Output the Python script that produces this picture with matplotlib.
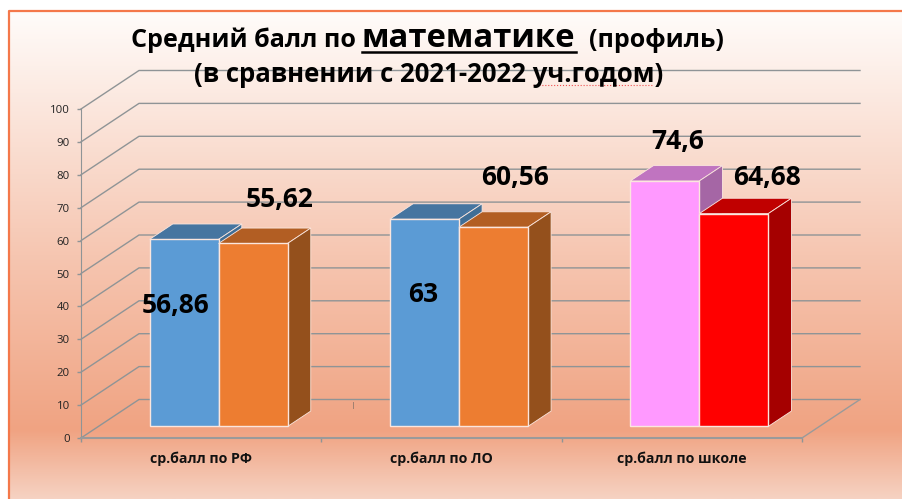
import matplotlib
matplotlib.use("Agg")
import matplotlib.pyplot as plt
import numpy as np
from matplotlib.colors import LinearSegmentedColormap

plt.rcParams["font.family"] = ["Open Sans", "DejaVu Sans"]

categories = ["ср.балл по РФ", "ср.балл по ЛО", "ср.балл по школе"]
first_values = [56.86, 63, 74.6]
second_values = [55.62, 60.56, 64.68]
first_labels = ["56,86", "63", "74,6"]
second_labels = ["55,62", "60,56", "64,68"]
y_ticks = [0, 10, 20, 30, 40, 50, 60, 70, 80, 90, 100]

# front, top, side colours per category
first_colors = [("#5B9BD5", "#4675A0", "#3F6E96"), ("#5B9BD5", "#4675A0", "#3F6E96"), ("#FF99FF", "#C074C0", "#A566A5")]
second_colors = [("#ED7D31", "#B25E23", "#94501C"), ("#ED7D31", "#B25E23", "#94501C"), ("#FF0000", "#C00000", "#A50000")]

W, H = 902, 499
X0, X1 = 81, 802      # front floor edge, px
Y0, Y100 = 438, 109   # value 0 and 100 on the front edge, px
BAR_W = 69 / ((X1 - X0) / 3)
# depth of the whole box in data units
DX = 58 / ((X1 - X0) / 3)
DY = 38.5 / ((Y0 - Y100) / 100)
BAR_FRONT = 0.30    # share of depth where the bars start
BAR_DEPTH = 0.40


def box(ax, x_left, val, color, z):
    front, top, side = color
    base = BAR_FRONT * DY
    x_right = x_left + BAR_W
    dx, dy = BAR_DEPTH * DX, BAR_DEPTH * DY
    ax.bar(x_left, val, BAR_W, bottom=base, align="edge", color=front,
           edgecolor="#FBE6DE", linewidth=1, zorder=z + 1)
    ax.fill([x_left, x_right, x_right + dx, x_left + dx],
            [base + val, base + val, base + val + dy, base + val + dy],
            facecolor=top, edgecolor="#FBE6DE", linewidth=0.6, clip_on=False, zorder=z)
    ax.fill([x_right, x_right + dx, x_right + dx, x_right],
            [base, base + dy, base + val + dy, base + val],
            facecolor=side, edgecolor="#FBE6DE", linewidth=0.6, clip_on=False, zorder=z)


def main():
    fig = plt.figure(figsize=(W / 100, H / 100), dpi=100, facecolor="white")

    # Background with gradient and orange frame
    bg = fig.add_axes([0, 0, 1, 1], zorder=0)
    bg.set_xlim(0, W)
    bg.set_ylim(H, 0)
    bg.axis("off")
    cmap = LinearSegmentedColormap.from_list(
        "bg", [(0, "#FFFCFA"), (0.5, "#F6C6B1"), (0.86, "#F0A382"), (1, "#F6D2C2")])
    grad = np.linspace(0, 1, 256).reshape(-1, 1)
    bg.imshow(grad, cmap=cmap, extent=(9, W, H, 11), aspect="auto", vmin=0, vmax=1)
    bg.set_xlim(0, W)
    bg.set_ylim(H, 0)
    bg.plot([9, 9, W], [H, 11, 11], color="#F4784A", linewidth=1.6)

    # Chart axes, front plane
    ax = fig.add_axes([X0 / W, 1 - Y0 / H, (X1 - X0) / W, (Y0 - Y100) / H], zorder=1)
    ax.patch.set_alpha(0)
    ax.set_xlim(0, len(categories))
    ax.set_ylim(0, 100)
    for s in ["top", "right"]:
        ax.spines[s].set_visible(False)
    ax.spines["left"].set_color("#8F9496")
    ax.spines["bottom"].set_color("#9A9A9A")
    ax.spines["bottom"].set_linewidth(1.5)

    ax.set_yticks(y_ticks)
    ax.tick_params(axis="y", length=3, width=1, color="#8F9496", pad=5,
                   labelsize=8.2, labelcolor="#222222")
    ax.set_xticks(np.arange(len(categories) + 1))
    ax.set_xticklabels([])
    ax.tick_params(axis="x", length=3, width=1, color="#8F9496")
    ax.set_xticks(np.arange(len(categories)) + 0.5, minor=True)
    ax.set_xticklabels(categories, minor=True, fontsize=10.2, fontweight="bold", color="#111111")
    ax.tick_params(axis="x", which="minor", length=0, pad=10)

    # Walls and floor
    n = len(categories)
    for v in y_ticks:
        ax.plot([0, DX, n + DX], [v, v + DY, v + DY], color="#8F9496", linewidth=1,
                clip_on=False, zorder=1)
    ax.plot([n, n + DX], [0, DY], color="#9A9A9A", linewidth=1, clip_on=False, zorder=1)

    # Bars
    for i in range(n):
        center = i + 0.5 + BAR_FRONT * DX
        box(ax, center - BAR_W, first_values[i], first_colors[i], 3)
        box(ax, center, second_values[i], second_colors[i], 5)

    # Text overlay
    ov = fig.add_axes([0, 0, 1, 1], zorder=2)
    ov.set_xlim(0, W)
    ov.set_ylim(H, 0)
    ov.axis("off")

    ov.text(131, 47, "Средний балл по", fontsize=18.1, fontweight="bold", color="black", va="baseline")
    ov.text(362, 47, "математике", fontsize=23.6, fontweight="bold", color="black", va="baseline")
    ov.plot([362, 576], [52, 52], color="black", linewidth=1.8)
    ov.text(589, 47, "(профиль)", fontsize=18, fontweight="bold", color="black", va="baseline")
    ov.text(194, 82, "(в сравнении с 2021-2022 уч.годом)", fontsize=18.5, fontweight="bold",
            color="black", va="baseline")
    ov.plot([533, 653], [85, 85], color="#F05050", linewidth=0.8, linestyle=":")
    ov.plot([353, 353], [402, 408], color="#A08070", linewidth=0.7)

    label_pos = [(176, 305), (423, 294), (678, 142)]
    for (x, y), t in zip(label_pos, first_labels):
        ov.text(x, y, t, fontsize=19, fontweight="bold", color="black", ha="center", va="center")
    label_pos = [(280, 199), (515, 177), (767, 177)]
    for (x, y), t in zip(label_pos, second_labels):
        ov.text(x, y, t, fontsize=19, fontweight="bold", color="black", ha="center", va="center")

    fig.savefig("out.png", dpi=100)
    plt.close(fig)


if __name__ == "__main__":
    main()
